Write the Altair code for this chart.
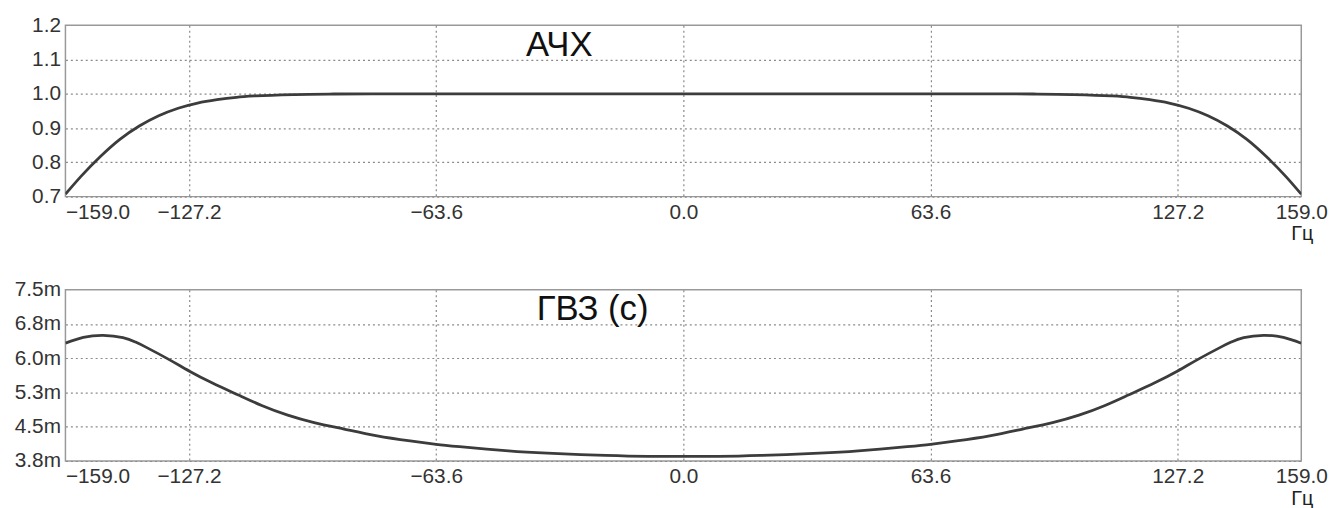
import altair as alt
import pandas as pd

# ---- data ----
freq_top = [-159, -155, -150, -145, -140, -135, -130, -125, -120, -115, -110, -100, -90, -80,
            -60, -40, -20, 0, 20, 40, 60,
            80, 90, 100, 110, 115, 120, 125, 130, 135, 140, 145, 150, 155, 159]
gain_top = [0.707, 0.759, 0.817, 0.867, 0.906, 0.936, 0.958, 0.973, 0.983, 0.990, 0.994, 0.998, 0.9995, 1.0,
            1.0, 1.0, 1.0, 1.0, 1.0, 1.0, 1.0,
            1.0, 0.9995, 0.998, 0.994, 0.990, 0.983, 0.973, 0.958, 0.936, 0.906, 0.867, 0.817, 0.759, 0.707]

freq_bot = [-159, -154.4, -149.3, -144.2, -141.0, -138.3, -132.3, -127.2, -121.3, -114.5, -108.5, -101.8, -95.0,
            -87.3, -78.8, -70.3, -63.6, -57.6, -45, -35, -20, -9, 0,
            9, 20, 35, 45, 57.6, 63.6, 70.3, 78.8, 87.3,
            95.0, 101.8, 108.5, 114.5, 121.3, 127.2, 132.3, 138.3, 141.0, 144.2, 149.3, 154.4, 159]
delay_bot = [6.345, 6.47, 6.515, 6.465, 6.37, 6.26, 5.99, 5.745, 5.49, 5.225, 5.00, 4.79, 4.63,
             4.49, 4.345, 4.235, 4.16, 4.11, 4.02, 3.97, 3.92, 3.90, 3.90,
             3.90, 3.92, 3.97, 4.02, 4.11, 4.16, 4.235, 4.345, 4.49,
             4.63, 4.79, 5.00, 5.225, 5.49, 5.745, 5.99, 6.26, 6.37, 6.465, 6.515, 6.47, 6.345]

x_ticks = [-159.0, -127.2, -63.6, 0.0, 63.6, 127.2, 159.0]
y_ticks_top = [0.7, 0.8, 0.9, 1.0, 1.1, 1.2]
y_ticks_bot = [3.8, 4.54, 5.28, 6.02, 6.76, 7.5]
titles = ["АЧХ", "ГВЗ (с)"]
unit = "Гц"

FONT = "Liberation Sans"
TFONT = "Liberation Sans"
W, H = 1248, 173
LINE = "#3c3c3c"


def x_axis():
    return alt.Axis(
        values=x_ticks, title=None, grid=True, ticks=False, domain=False,
        labelExpr="replace(format(datum.value, '.1f'), '-', '\u2212')",
        labelAlign={"condition": {"test": "datum.value < -158", "value": "left"}, "value": "center"},
        gridOpacity={"condition": {"test": "abs(datum.value) > 158", "value": 0}, "value": 1},
        labelFlush=False, labelPadding=5, labelOverlap=False,
    )


def y_axis(vals, expr):
    return alt.Axis(
        values=vals, title=None, grid=True, ticks=False, domain=False,
        labelExpr=expr,
        gridOpacity={"condition": {"test": "datum.value > 7.4 || datum.value > 1.19 && datum.value < 1.21", "value": 0}, "value": 1},
        labelPadding=5, labelFlush=False, labelOverlap=False,
    )


def panel(freqs, vals, ydom, yvals, yexpr, title, tx, interp):
    df = pd.DataFrame({"f": freqs, "v": vals})
    line = alt.Chart(df).mark_line(color=LINE, strokeWidth=2.8, interpolate=interp, clip=True).encode(
        x=alt.X("f:Q", scale=alt.Scale(domain=[-159, 159], nice=False, zero=False), axis=x_axis()),
        y=alt.Y("v:Q", scale=alt.Scale(domain=ydom, nice=False, zero=False), axis=y_axis(yvals, yexpr)),
    )
    tdf = pd.DataFrame({"t": [title]})
    ttl = alt.Chart(tdf).mark_text(font=TFONT, fontSize=35, color="#111", align="left",
                                   baseline="alphabetic").encode(
        text="t:N", x=alt.value(tx), y=alt.value(31))
    udf = pd.DataFrame({"t": [unit]})
    un = alt.Chart(udf).mark_text(font=FONT, fontSize=20, color="#222", align="center",
                                  baseline="alphabetic").encode(
        text="t:N", x=alt.value(W + 1), y=alt.value(H + 44))
    return alt.layer(line, ttl, un).properties(width=W, height=H)


top = panel(freq_top, gain_top, [0.7, 1.2], y_ticks_top, "format(datum.value, '.1f')", titles[0], 465, "monotone")
bot = panel(freq_bot, delay_bot, [3.8, 7.5], y_ticks_bot, "format(datum.value, '.1f') + 'm'", titles[1], 476, "natural")

chart = alt.vconcat(top, bot, spacing=33).properties(
    padding={"left": 5, "top": 3, "right": 0, "bottom": 0}
).configure(
    background="white"
).configure_view(
    stroke="#999", strokeWidth=1.5
).configure_axis(
    labelFont=FONT, labelFontSize=21, labelColor="#333",
    gridColor="#8a8a8a", gridDash=[2, 3], gridWidth=1.2,
)

chart.save("out.html", embed_options={"renderer": "svg", "actions": False})
